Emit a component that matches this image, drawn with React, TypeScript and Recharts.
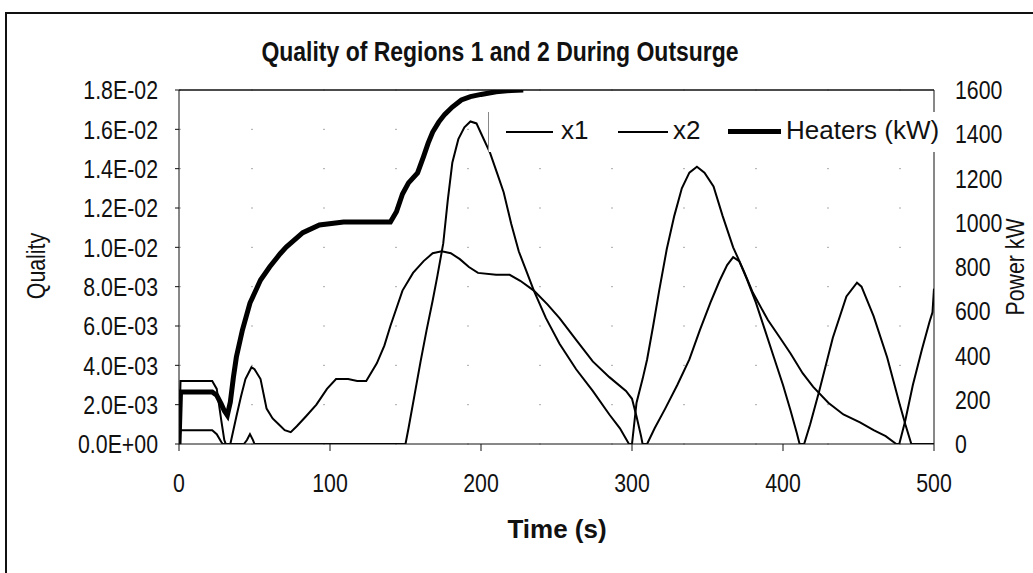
import React from 'react';
import { LineChart, Line, XAxis, YAxis, CartesianGrid, ReferenceLine } from 'recharts';

const xTicks = [0, 100, 200, 300, 400, 500];
const qualityTicks = [0, 0.002, 0.004, 0.006, 0.008, 0.01, 0.012, 0.014, 0.016, 0.018];
const powerTicks = [0, 200, 400, 600, 800, 1000, 1200, 1400, 1600];

const x1Time = [0, 1, 22, 25, 28, 30, 31, 34, 38, 41, 44, 48, 50, 54, 58, 62, 66, 70, 74, 78, 84, 91, 98, 104, 112, 118, 124, 131, 136, 140, 148, 155, 162, 168, 174, 180, 186, 192, 198, 210, 219, 226, 235, 244, 252, 263, 274, 285, 296, 300, 303, 306, 307, 310, 315, 322, 330, 338, 345, 352, 358, 363, 367, 371, 376, 382, 388, 394, 400, 405, 409, 411, 414, 418, 424, 433, 442, 449, 452, 460, 469, 477, 481, 485, 500];
const x1Values = [0, 0.0032, 0.0032, 0.0028, 0.0012, 0.0002, 0, 0, 0.0014, 0.0024, 0.0033, 0.0039, 0.0038, 0.0033, 0.0018, 0.0013, 0.001, 0.0007, 0.0006, 0.0009, 0.0014, 0.002, 0.0028, 0.0033, 0.0033, 0.0032, 0.0032, 0.0041, 0.005, 0.006, 0.0078, 0.0087, 0.0093, 0.0097, 0.0098, 0.0097, 0.0094, 0.009, 0.0087, 0.0086, 0.0086, 0.0083, 0.0078, 0.0071, 0.0064, 0.0053, 0.0042, 0.0034, 0.0027, 0.0023, 0.0014, 0.0004, 0, 0, 0.0008, 0.0018, 0.003, 0.0043, 0.0058, 0.0072, 0.0083, 0.0091, 0.0095, 0.0093, 0.0084, 0.0072, 0.0058, 0.0044, 0.003, 0.0017, 0.0006, 0, 0, 0.001, 0.0027, 0.0054, 0.0075, 0.0082, 0.008, 0.0065, 0.0044, 0.0021, 0.001, 0, 0];

const x2Time = [0, 1, 22, 25, 28, 29, 43, 45, 47, 49, 50, 150, 152, 156, 160, 164, 168, 171, 175, 178, 181, 185, 189, 193, 197, 200, 206, 211, 215, 220, 225, 230, 235, 243, 252, 263, 274, 285, 292, 298, 300, 303, 307, 310, 314, 318, 323, 328, 333, 338, 343, 348, 354, 360, 367, 374, 380, 390, 398, 405, 413, 420, 430, 440, 451, 460, 468, 475, 477, 481, 486, 492, 497, 499, 500];
const x2Values = [0, 0.0007, 0.0007, 0.0005, 0.0001, 0, 0, 0.0002, 0.0005, 0.0002, 0, 0, 0.0008, 0.0025, 0.0042, 0.0058, 0.0073, 0.0085, 0.0102, 0.0124, 0.0143, 0.0155, 0.0161, 0.0164, 0.0163, 0.0158, 0.0148, 0.0137, 0.0128, 0.0112, 0.0098, 0.0088, 0.0078, 0.0064, 0.0051, 0.0038, 0.0027, 0.0015, 0.0008, 0, 0, 0.0021, 0.0033, 0.0043, 0.006, 0.0078, 0.0099, 0.0116, 0.013, 0.0138, 0.0141, 0.0138, 0.0131, 0.0116, 0.01, 0.0088, 0.0077, 0.0063, 0.0054, 0.0046, 0.0036, 0.0029, 0.0021, 0.0015, 0.0011, 0.0007, 0.0004, 0, 0, 0.0012, 0.003, 0.0048, 0.0062, 0.0067, 0.0079];

const heaterTime = [0, 1, 22, 25, 28, 30, 32, 34, 36, 38, 42, 47, 54, 60, 67, 71, 82, 93, 109, 125, 140, 144, 148, 152, 158, 162, 165, 168, 172, 176, 181, 187, 193, 200, 210, 220, 228];
const heaterValues = [0, 235, 235, 220, 180, 150, 130, 190, 300, 393, 515, 637, 741, 800, 860, 890, 955, 990, 1003, 1003, 1003, 1050, 1130, 1180, 1225, 1300, 1360, 1410, 1455, 1490, 1523, 1555, 1570, 1580, 1592, 1598, 1600];

const toPoints = (ts: number[], vs: number[]) => ts.map((t, i) => ({ t, v: vs[i] }));
const x1Data = toPoints(x1Time, x1Values);
const x2Data = toPoints(x2Time, x2Values);
const heaterData = toPoints(heaterTime, heaterValues);

const fmtQuality = (v: number) => {
  const s = v.toExponential(1);
  const [m, e] = s.split('e');
  const sign = e[0] === '-' ? '-' : '+';
  const digits = e.replace(/^[+-]/, '').padStart(2, '0');
  return `${m}E${sign}${digits}`;
};

const SANS = '"Liberation Sans", Arial, sans-serif';
const SQUEEZE = 0.82;
const TICK_SIZE = 26;

const NarrowTick = (props: any) => {
  const { x, y, payload, textAnchor, kind } = props;
  const label = kind === 'q' ? fmtQuality(payload.value) : String(payload.value);
  const dy = kind === 'x' ? '0.71em' : '0.355em';
  return (
    <g transform={`translate(${x},${y})`}>
      <text transform={`scale(${SQUEEZE},1)`} textAnchor={textAnchor} dy={dy} fill="#111" fontSize={TICK_SIZE} fontFamily={SANS}>
        {label}
      </text>
    </g>
  );
};

const narrowStyle: React.CSSProperties = { fontFamily: SANS, color: '#111', whiteSpace: 'nowrap' };

export default function App() {
  return (
    <div style={{ position: 'absolute', left: 0, top: 0, width: 1033, height: 573, background: '#fff', overflow: 'hidden' }}>
      <div style={{ position: 'absolute', left: 5, top: 12, width: 1040, height: 600, borderLeft: '2px solid #111', borderTop: '2px solid #111' }} />
      <LineChart width={1033} height={573} margin={{ top: 90, right: 0, bottom: 29, left: 0 }}>
        <CartesianGrid horizontal vertical={false} stroke="#aaa" strokeDasharray="2 70" yAxisId="left" />
        <XAxis
          type="number"
          dataKey="t"
          domain={[0, 500]}
          ticks={xTicks}
          allowDataOverflow
          height={100}
          stroke="#111"
          tickSize={7}
          tickMargin={23}
          tick={<NarrowTick kind="x" />}
        />
        <YAxis
          yAxisId="left"
          orientation="left"
          width={179}
          domain={[0, 0.018]}
          ticks={qualityTicks}
          allowDataOverflow
          stroke="#111"
          tickSize={4}
          tickMargin={17}
          tick={<NarrowTick kind="q" />}
        />
        <YAxis
          yAxisId="right"
          orientation="right"
          width={99}
          domain={[0, 1600]}
          ticks={powerTicks}
          allowDataOverflow
          stroke="#111"
          tickSize={0}
          tickMargin={21}
          tick={<NarrowTick kind="p" />}
        />
        <ReferenceLine yAxisId="left" y={0.018} stroke="#111" strokeWidth={1.5} />
        <Line yAxisId="left" data={x1Data} dataKey="v" type="linear" stroke="#000" strokeWidth={2} dot={false} isAnimationActive={false} name="x1" />
        <Line yAxisId="left" data={x2Data} dataKey="v" type="linear" stroke="#000" strokeWidth={2} dot={false} isAnimationActive={false} name="x2" />
        <Line yAxisId="right" data={heaterData} dataKey="v" type="linear" stroke="#000" strokeWidth={5} dot={false} isAnimationActive={false} name="Heaters (kW)" />
      </LineChart>

      <div style={{ ...narrowStyle, position: 'absolute', left: 500, top: 52, transform: `translate(-50%, -50%) scaleX(${SQUEEZE})`, fontWeight: 700, fontSize: 28 }}>
        Quality of Regions 1 and 2 During Outsurge
      </div>

      <div style={{ ...narrowStyle, position: 'absolute', left: 36, top: 266, transform: `translate(-50%, -50%) rotate(-90deg) scaleX(${SQUEEZE})`, fontSize: 26 }}>
        Quality
      </div>
      <div style={{ ...narrowStyle, position: 'absolute', left: 1015, top: 267, transform: `translate(-50%, -50%) rotate(-90deg) scaleX(${SQUEEZE})`, fontSize: 26 }}>
        Power kW
      </div>
      <div style={{ ...narrowStyle, position: 'absolute', left: 557, top: 529, transform: 'translate(-50%, -50%)', fontWeight: 700, fontSize: 26 }}>
        Time (s)
      </div>

      <div style={{ position: 'absolute', left: 488, top: 112, width: 457, height: 40, background: '#fff', borderLeft: '1px solid #888' }}>
        <div style={{ position: 'absolute', left: 17, top: 19, width: 47, height: 2, background: '#000' }} />
        <span style={{ ...narrowStyle, position: 'absolute', left: 72, top: 3, fontSize: 26, lineHeight: '30px' }}>x1</span>
        <div style={{ position: 'absolute', left: 129, top: 19, width: 50, height: 2, background: '#000' }} />
        <span style={{ ...narrowStyle, position: 'absolute', left: 184, top: 3, fontSize: 26, lineHeight: '30px' }}>x2</span>
        <div style={{ position: 'absolute', left: 239, top: 17, width: 53, height: 5, background: '#000' }} />
        <span style={{ ...narrowStyle, position: 'absolute', left: 297, top: 3, fontSize: 26, lineHeight: '30px' }}>Heaters (kW)</span>
      </div>
    </div>
  );
}
